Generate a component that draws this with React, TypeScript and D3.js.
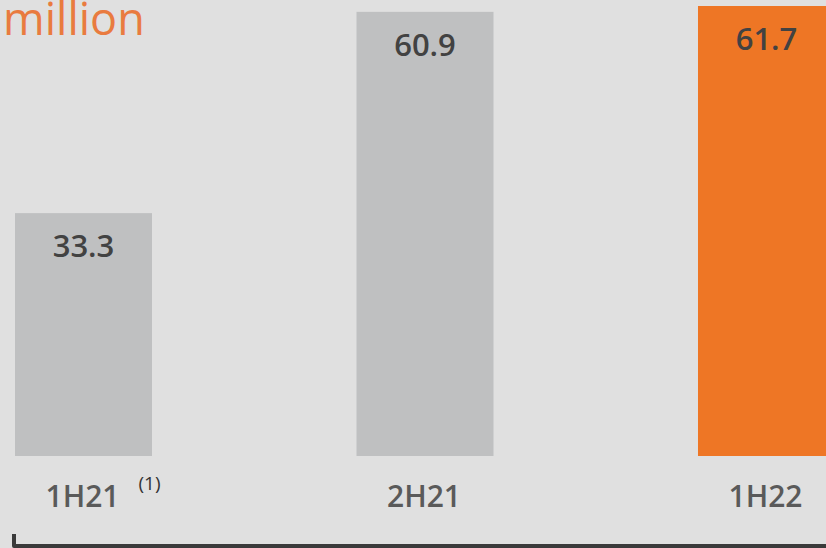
import * as d3 from 'd3'

const W = 826
const H = 548

const categories = ['1H21', '2H21', '1H22']
const values = [33.3, 60.9, 61.7]
const barColors = ['#bfc0c1', '#bfc0c1', '#ee7625']
const notes = ['(1)', '', '']

const FONT = "'Open Sans', 'Noto Sans', sans-serif"

export default function App() {
  const x = d3.scaleBand<string>().domain(categories).range([15, 835]).paddingInner(0.5988).paddingOuter(0)
  const y = d3.scaleLinear().domain([0, 61.7]).range([456, 6])

  return (
    <svg
      width={W}
      height={H}
      viewBox={`0 0 ${W} ${H}`}
      style={{ position: 'absolute', left: 0, top: 0, display: 'block', background: '#e0e0e0' }}
    >
      <rect x={0} y={0} width={W} height={H} fill="#e0e0e0" />
      <text x={3} y={35} fontFamily={FONT} fontSize={45} fill="#e97b3f">
        million
      </text>
      {categories.map((c, i) => {
        const bx = x(c)!
        const bw = x.bandwidth()
        const cx = bx + bw / 2
        return (
          <g key={c}>
            <rect x={bx} y={y(values[i])} width={bw} height={y(0) - y(values[i])} fill={barColors[i]} />
            <text
              x={cx}
              y={y(values[i]) + 44}
              textAnchor="middle"
              fontFamily={FONT}
              fontSize={31}
              fontWeight={600}
              fill="#424242"
            >
              {values[i].toFixed(1)}
            </text>
            <text x={cx - 1} y={507} textAnchor="middle" fontFamily={FONT} fontSize={30} fontWeight={600} fill="#5a5a5a">
              {c}
            </text>
            {notes[i] && (
              <text x={cx + 66} y={490} textAnchor="middle" fontFamily={FONT} fontSize={19} fill="#333">
                {notes[i]}
              </text>
            )}
          </g>
        )
      })}
      <path d="M14,534 L14,546 L826,546" fill="none" stroke="#3a3a3a" strokeWidth={4} strokeLinejoin="round" />
    </svg>
  )
}
